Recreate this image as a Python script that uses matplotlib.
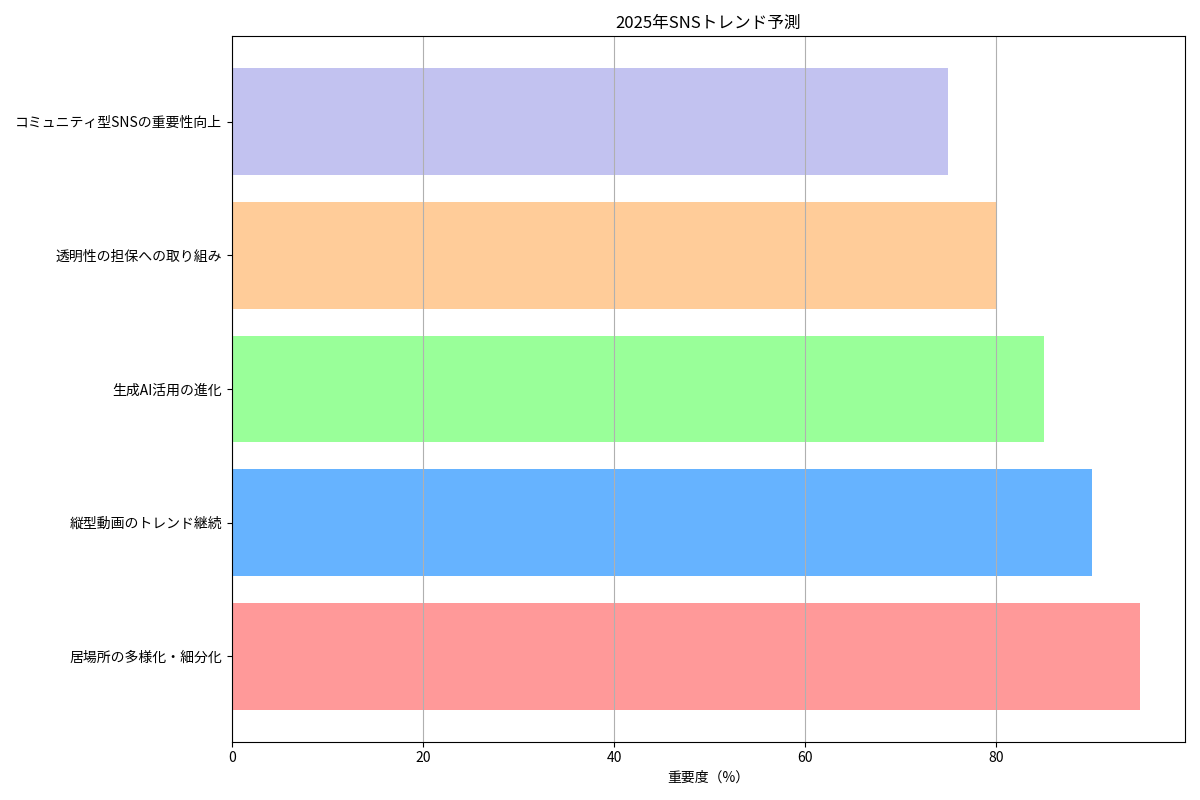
import matplotlib
matplotlib.use("Agg")
import matplotlib.pyplot as plt

plt.rcParams['font.family'] = ['Noto Sans CJK JP', 'DejaVu Sans']

categories = ['居場所の多様化・細分化', '縦型動画のトレンド継続', '生成AI活用の進化',
              '透明性の担保への取り組み', 'コミュニティ型SNSの重要性向上']
values = [95, 90, 85, 80, 75]
colors = ['#ff9999', '#66b3ff', '#99ff99', '#ffcc99', '#c2c2f0']

fig, ax = plt.subplots(figsize=(12, 8), dpi=100)
ax.barh(categories, values, color=colors)
ax.set_xlabel('重要度（%）')
ax.set_title('2025年SNSトレンド予測')
ax.grid(axis='x')
plt.tight_layout()
plt.savefig('out.png')
